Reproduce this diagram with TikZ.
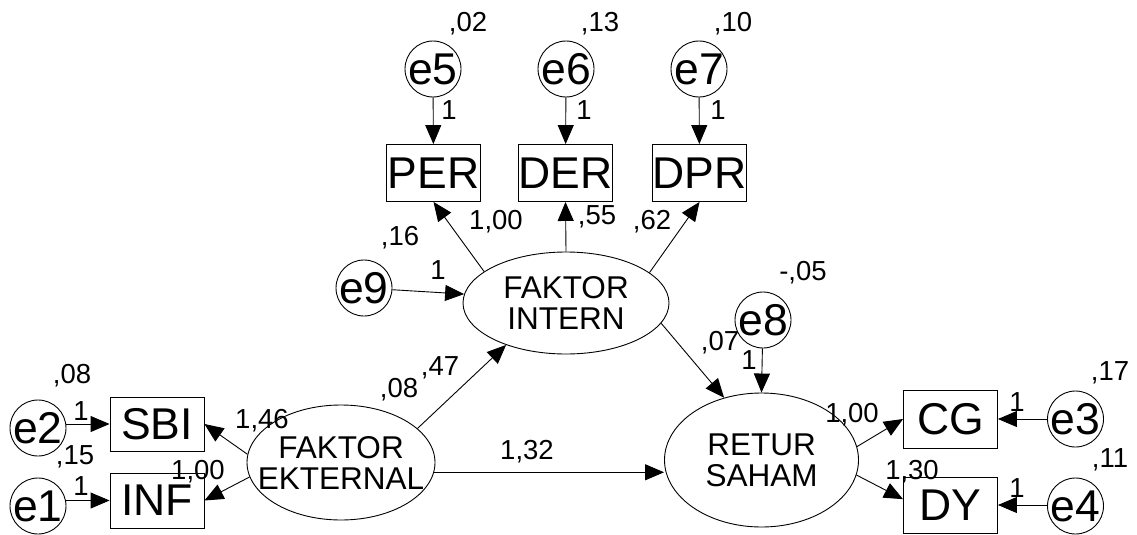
\documentclass[tikz,border=0pt]{standalone}
\usepackage{fontspec}
\setmainfont{Liberation Sans}
\usetikzlibrary{arrows.meta,shapes.geometric,calc}
\newcommand\myBig{\fontsize{44.5}{44.5}\selectfont}
\newcommand\myMid{\fontsize{31.5}{31}\selectfont}
\newcommand\mySmall{\fontsize{27.5}{27.5}\selectfont}
\begin{document}
\begin{tikzpicture}[x=1pt,y=-1pt,
 err/.style={circle,draw,line width=0.9pt,minimum size=56pt,inner sep=-4pt,font=\myBig},
 obs/.style={rectangle,draw,line width=0.9pt,minimum width=94pt,minimum height=57pt,inner sep=0pt,font=\myBig},
 lat/.style={ellipse,draw,line width=0.9pt,inner sep=0pt},
 lattext/.style={font=\myMid,align=center,inner sep=0pt},
 lbl/.style={font=\mySmall,inner sep=0pt},
 arr/.style={-{Triangle[length=19pt,width=16pt]},line width=0.9pt}]
\fill[white] (0,0) rectangle (1137,535);
\useasboundingbox (0,0) rectangle (1137,535);

% error terms
\node[err] (e5) at (433,69) {e5};
\node[err] (e6) at (566,69) {e6};
\node[err] (e7) at (699,69) {e7};
\node[err] (e9) at (364,288) {e9};
\node[err] (e8) at (763,320) {e8};
\node[err] (e2) at (38,428) {e2};
\node[err] (e1) at (38,506) {e1};
\node[err] (e3) at (1075.5,419) {e3};
\node[err] (e4) at (1075.5,506) {e4};

% observed
\node[obs] (per) at (433.5,173) {PER};
\node[obs] (der) at (565.5,173) {DER};
\node[obs] (dpr) at (699.5,173) {DPR};
\node[obs,minimum height=54pt] (sbi) at (157,424) {SBI};
\node[obs,minimum height=55pt] (inf) at (157,500.5) {INF};
\node[obs,minimum height=58pt] (cg) at (950.5,419) {CG};
\node[obs,minimum height=56pt] (dy) at (950.5,505) {DY};

% latent
\node[lat,minimum width=206pt,minimum height=102pt,label={[lattext]center:FAKTOR\\INTERN}] (int) at (566,303) {};
\node[lat,minimum width=188pt,minimum height=115pt,label={[lattext]center:FAKTOR\\EKTERNAL}] (ext) at (341,462.5) {};
\node[lat,minimum width=194pt,minimum height=134pt,label={[lattext]center:RETUR\\SAHAM}] (ret) at (761.5,460) {};

% arrows
\draw[arr] (e5) -- (per);
\draw[arr] (e6) -- (der);
\draw[arr] (e7) -- (dpr);
\draw[arr] (int.159.5) -- (per.south);
\draw[arr] (int.north) -- (der.south);
\draw[arr] (int.20) -- (dpr.south);
\draw[arr] (e9) -- (int.175.5);
\draw[arr] (int.-12.5) -- (ret.121.5);
\draw[arr] (e8) -- (ret.north);
\draw[arr] (ext.24.4) -- (int.215);
\draw[arr] (ext.175.7) -- (sbi.east);
\draw[arr] (ext.189) -- (inf.east);
\draw[arr] (ext.354) -- (ext.354 -| ret.west);
\draw[arr] (ret.8) -- (cg.west);
\draw[arr] (ret.-9) -- (dy.173);
\draw[arr] (e3) -- (cg.east);
\draw[arr] (e4.west |- dy.east) -- (dy.east);
\draw[arr] (e2.east |- sbi.west) -- (sbi.west);
\draw[arr] (e1.east |- inf.west) -- (inf.west);

% labels
\node[lbl] (l02) at (468,24) {,02};
\node[lbl] (l13) at (600,24) {,13};
\node[lbl] (l10) at (733,24) {,10};
\node[lbl] (o5) at (449,110) {1};
\node[lbl] (o6) at (584,110) {1};
\node[lbl] (o7) at (718,110) {1};
\node[lbl] (lper) at (496,222) {1,00};
\node[lbl] (lder) at (597,217) {,55};
\node[lbl] (ldpr) at (652,222) {,62};
\node[lbl] (l16) at (400,238) {,16};
\node[lbl] (o9) at (438,270) {1};
\node[lbl] (l08b) at (399,390) {,08};
\node[lbl] (l47) at (440,368) {,47};
\node[lbl] (l05) at (803,273) {-,05};
\node[lbl] (l07) at (720,343) {,07};
\node[lbl] (o8) at (749,360) {1};
\node[lbl] (l08) at (72,376) {,08};
\node[lbl] (o2) at (81,411) {1};
\node[lbl] (l15) at (75,457) {,15};
\node[lbl] (o1) at (81,486) {1};
\node[lbl] (l146) at (262,421) {1,46};
\node[lbl] (l100i) at (198,472) {1,00};
\node[lbl] (l132) at (527,452) {1,32};
\node[lbl] (l100c) at (852,415) {1,00};
\node[lbl] (l130) at (912,472) {1,30};
\node[lbl] (l17) at (1110,373) {,17};
\node[lbl] (o3) at (1017,402) {1};
\node[lbl] (l11) at (1110,460) {,11};
\node[lbl] (o4) at (1017,488) {1};
\end{tikzpicture}
\end{document}
